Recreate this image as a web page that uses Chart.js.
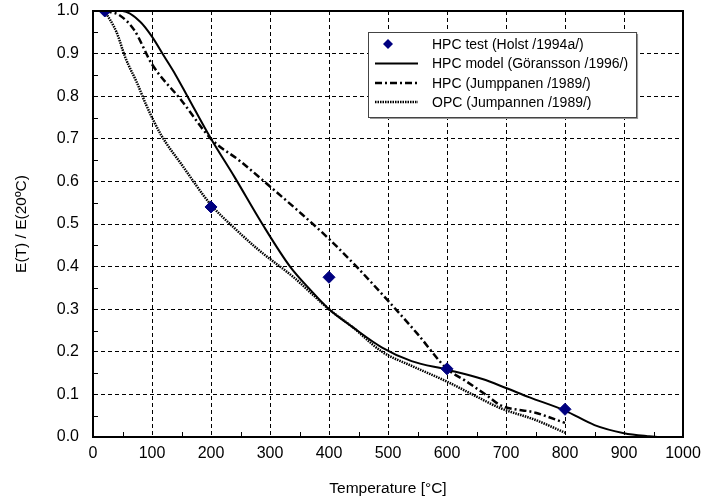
<!DOCTYPE html>
<html>
<head>
<meta charset="utf-8">
<script src="https://cdn.jsdelivr.net/npm/chart.js@4.4.0/dist/chart.umd.min.js"></script>
<style>
  html, body { margin: 0; padding: 0; background: #fff; }
  #wrap { width: 704px; height: 504px; }
</style>
</head>
<body>
<div id="wrap"><canvas id="chart" width="704" height="504"></canvas></div>
<script>
// Data
const testT = [20, 200, 400, 600, 800];
const testE = [1.0, 0.54, 0.375, 0.16, 0.065];

const modelT = [20, 50, 80, 100, 120, 140, 160, 200, 240, 287, 334, 370, 400, 440, 490, 540, 600, 660, 700, 740, 800, 850, 900, 940, 960, 1000];
const modelE = [1.0, 1.0, 0.975, 0.94, 0.895, 0.85, 0.80, 0.70, 0.61, 0.50, 0.40, 0.343, 0.30, 0.258, 0.21, 0.178, 0.158, 0.136, 0.115, 0.093, 0.062, 0.028, 0.009, 0.002, 0.0, 0.0];

const jumpHpcT = [20, 45, 70, 100, 150, 200, 250, 300, 350, 400, 450, 500, 550, 600, 630, 670, 690, 750, 800];
const jumpHpcE = [1.0, 0.99, 0.955, 0.875, 0.79, 0.70, 0.647, 0.588, 0.528, 0.465, 0.395, 0.32, 0.242, 0.16, 0.133, 0.095, 0.075, 0.057, 0.033];

const opcT = [20, 40, 55, 75, 90, 115, 150, 200, 240, 280, 340, 400, 440, 490, 540, 600, 650, 690, 750, 800];
const opcE = [1.0, 0.95, 0.89, 0.83, 0.78, 0.71, 0.64, 0.545, 0.49, 0.44, 0.375, 0.30, 0.258, 0.20, 0.167, 0.13, 0.095, 0.068, 0.04, 0.01];

const labels = [
  "HPC test (Holst /1994a/)",
  "HPC model (Göransson /1996/)",
  "HPC (Jumppanen /1989/)",
  "OPC (Jumpannen /1989/)"
];

function pts(xs, ys) {
  return xs.map((x, i) => ({ x: x, y: ys[i] }));
}

const FONT = "'Liberation Sans', Arial, sans-serif";

// frame, minor ticks and legend
const extras = {
  id: "extras",
  afterDraw(chart) {
    const ctx = chart.ctx;
    const a = chart.chartArea;
    const xs = chart.scales.x, ys = chart.scales.y;
    ctx.save();
    ctx.strokeStyle = "#000";
    ctx.lineWidth = 1;
    ctx.beginPath();
    for (let t = 50; t < 1000; t += 100) {
      const px = Math.round(xs.getPixelForValue(t)) + 0.5;
      ctx.moveTo(px, a.bottom);
      ctx.lineTo(px, a.bottom - 5);
    }
    for (let v = 0.05; v < 1; v += 0.1) {
      const py = Math.round(ys.getPixelForValue(v)) + 0.5;
      ctx.moveTo(a.left, py);
      ctx.lineTo(a.left + 5, py);
    }
    ctx.stroke();
    ctx.lineWidth = 2;
    ctx.strokeRect(a.left, a.top, a.right - a.left, a.bottom - a.top);

    // legend box
    ctx.font = "14px " + FONT;
    let tw = 0;
    labels.forEach(l => { tw = Math.max(tw, ctx.measureText(l).width); });
    const lx = 368, ly = 32, lh = 85;
    const lw = 432 - lx + tw + 8;
    ctx.fillStyle = "#999";
    ctx.fillRect(lx + 2, ly + 2, lw, lh);
    ctx.fillStyle = "#fff";
    ctx.fillRect(lx, ly, lw, lh);
    ctx.lineWidth = 1;
    ctx.strokeStyle = "#444";
    ctx.strokeRect(lx + 0.5, ly + 0.5, lw, lh);

    const rows = [44, 63.5, 83, 102];
    const ds = chart.data.datasets;
    ctx.textBaseline = "middle";
    ctx.textAlign = "left";
    rows.forEach((ry, i) => {
      const d = ds[i];
      if (i === 0) {
        ctx.fillStyle = d.pointBackgroundColor;
        ctx.beginPath();
        ctx.moveTo(388, ry - 5);
        ctx.lineTo(393, ry);
        ctx.lineTo(388, ry + 5);
        ctx.lineTo(383, ry);
        ctx.closePath();
        ctx.fill();
      } else {
        ctx.strokeStyle = d.borderColor;
        ctx.lineWidth = d.borderWidth;
        ctx.setLineDash(d.borderDash || []);
        ctx.beginPath();
        ctx.moveTo(375, ry);
        ctx.lineTo(418, ry);
        ctx.stroke();
        ctx.setLineDash([]);
      }
      ctx.fillStyle = "#000";
      ctx.fillText(labels[i], 432, ry + 1);
    });
    ctx.restore();
  }
};

const ctx = document.getElementById("chart").getContext("2d");
const chart = new Chart(ctx, {
  type: "scatter",
  data: {
    datasets: [
      {
        label: labels[0],
        data: pts(testT, testE),
        showLine: false,
        pointStyle: "rectRot",
        pointRadius: 6,
        pointBackgroundColor: "#000080",
        pointBorderColor: "#000080",
        order: 0
      },
      {
        label: labels[1],
        data: pts(modelT, modelE),
        showLine: true,
        borderColor: "#000",
        borderWidth: 2,
        pointRadius: 0,
        cubicInterpolationMode: "monotone",
        order: 1
      },
      {
        label: labels[2],
        data: pts(jumpHpcT, jumpHpcE),
        showLine: true,
        borderColor: "#000",
        borderWidth: 2.5,
        borderDash: [7, 3, 2, 3],
        pointRadius: 0,
        cubicInterpolationMode: "monotone",
        order: 2
      },
      {
        label: labels[3],
        data: pts(opcT, opcE),
        showLine: true,
        borderColor: "#000",
        borderWidth: 2.5,
        borderDash: [1.5, 1],
        pointRadius: 0,
        cubicInterpolationMode: "monotone",
        order: 3
      }
    ]
  },
  options: {
    responsive: false,
    animation: false,
    layout: { padding: { left: 12, top: 11, right: 21, bottom: 6 } },
    plugins: {
      legend: { display: false },
      tooltip: { enabled: false }
    },
    scales: {
      x: {
        type: "linear",
        min: 0,
        max: 1000,
        ticks: { stepSize: 100, color: "#000", padding: 7, maxRotation: 0, font: { family: FONT, size: 16 }, callback: v => String(v) },
        grid: { color: "#000", lineWidth: 1, drawTicks: false },
        border: { color: "#000", width: 2, dash: [4, 3] },
        title: { display: true, text: "Temperature [°C]", color: "#000", font: { family: FONT, size: 15.5 }, padding: { top: 14, bottom: 0 } },
        afterFit(s) { s.height = 61; s.paddingLeft = 0; s.paddingRight = 0; }
      },
      y: {
        type: "linear",
        min: 0,
        max: 1,
        ticks: { stepSize: 0.1, color: "#000", padding: 14, font: { family: FONT, size: 16 }, callback: v => v.toFixed(1) },
        grid: { color: "#000", lineWidth: 1, drawTicks: false },
        border: { color: "#000", width: 2, dash: [4, 3] },
        title: { display: true, text: "E(T) / E(20ºC)", color: "#000", font: { family: FONT, size: 15.5 }, padding: { top: 0, bottom: 0 } },
        afterFit(s) { s.width = 81; s.paddingTop = 0; s.paddingBottom = 0; }
      }
    }
  },
  plugins: [extras]
});
</script>
</body>
</html>
